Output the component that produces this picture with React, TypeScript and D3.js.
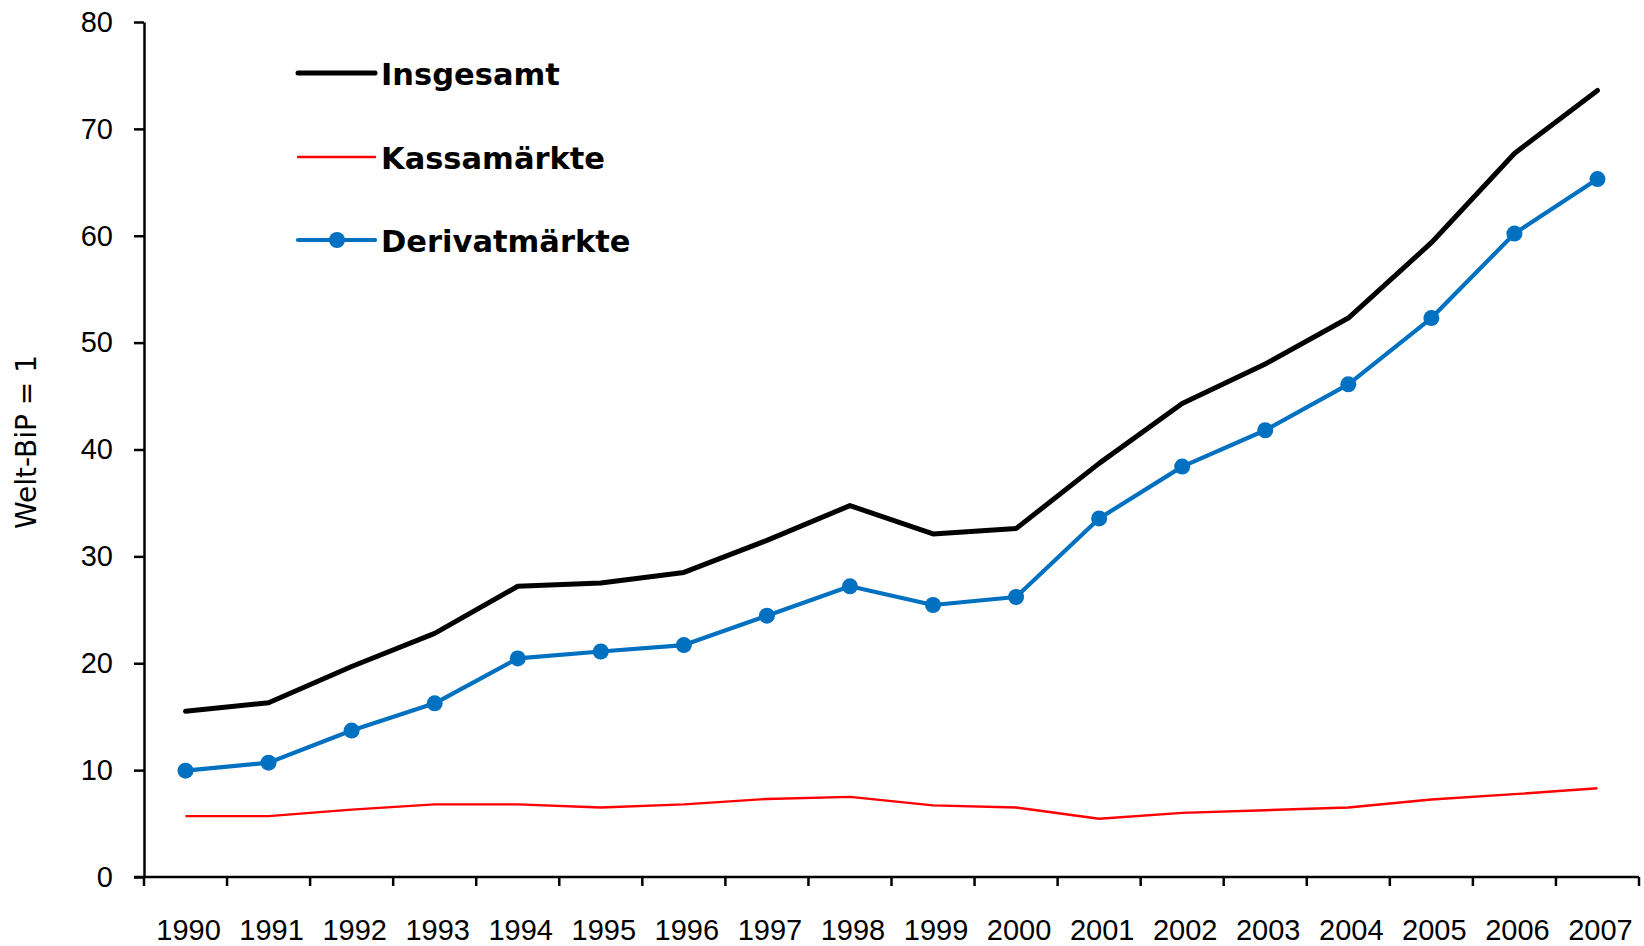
import React, { useEffect, useRef } from "react";
import * as d3 from "d3";

const years = ["1990","1991","1992","1993","1994","1995","1996","1997","1998","1999","2000","2001","2002","2003","2004","2005","2006","2007"];
const insgesamt = [15.5, 16.3, 19.7, 22.8, 27.2, 27.5, 28.5, 31.5, 34.75, 32.1, 32.6, 38.7, 44.3, 48.0, 52.3, 59.35, 67.7, 73.6];
const derivat = [9.95, 10.7, 13.7, 16.25, 20.45, 21.1, 21.7, 24.45, 27.2, 25.45, 26.2, 33.55, 38.4, 41.8, 46.1, 52.3, 60.2, 65.3];
const kassa = [5.7, 5.7, 6.3, 6.8, 6.8, 6.5, 6.8, 7.3, 7.5, 6.7, 6.5, 5.45, 6.0, 6.25, 6.5, 7.25, 7.75, 8.3];
const yTicks = [0, 10, 20, 30, 40, 50, 60, 70, 80];
const legendLabels = ["Insgesamt", "Kassamärkte", "Derivatmärkte"];
const yTitle = "Welt-BiP = 1";

const W = 1644, H = 946;
const BLUE = "#0070C0", RED = "#FF0000", BLACK = "#000000";

export default function App() {
  const ref = useRef<SVGSVGElement>(null);
  useEffect(() => {
    const svg = d3.select(ref.current);
    svg.selectAll("*").remove();
    const x = d3.scaleBand().domain(years).range([144, 1639]).paddingInner(0).paddingOuter(0);
    const y = d3.scaleLinear().domain([0, 80]).range([877, 22]);
    const cx = (d: string) => (x(d) as number) + x.bandwidth() / 2;

    // Y axis
    const ya = svg.append("g").attr("transform", "translate(144,0)")
      .call(d3.axisLeft(y).tickValues(yTicks).tickSize(10).tickSizeOuter(0).tickPadding(21).tickFormat(d3.format("d")));
    ya.select(".domain").attr("stroke", BLACK).attr("stroke-width", 2.5);
    ya.selectAll(".tick line").attr("stroke", BLACK).attr("stroke-width", 2.5);
    ya.selectAll(".tick text").attr("font-family", "Liberation Sans, Arial, sans-serif").attr("font-size", 29).attr("fill", "#000");

    // X axis
    const xa = svg.append("g").attr("transform", "translate(0,877)");
    xa.append("line").attr("x1", 134).attr("x2", 1639).attr("y1", 0).attr("y2", 0).attr("stroke", BLACK).attr("stroke-width", 2.5);
    const bounds = years.map(d => x(d) as number).concat([x.range()[1]]);
    xa.selectAll("line.tk").data(bounds).enter().append("line").attr("class", "tk")
      .attr("x1", d => d).attr("x2", d => d).attr("y1", 0).attr("y2", 9)
      .attr("stroke", BLACK).attr("stroke-width", 2.5);
    xa.selectAll("text").data(years).enter().append("text")
      .attr("x", d => cx(d) + 3).attr("y", 63).attr("text-anchor", "middle")
      .attr("font-family", "Liberation Sans, Arial, sans-serif").attr("font-size", 29).attr("fill", "#000")
      .text(d => d);

    // Y title
    svg.append("text").attr("transform", "translate(36,442) rotate(-90)").attr("text-anchor", "middle")
      .attr("font-family", "DejaVu Sans, sans-serif").attr("font-size", 28).attr("fill", "#000").text(yTitle);

    const line = d3.line<number>().x((_, i) => cx(years[i])).y(d => y(d));

    svg.append("path").attr("d", line(kassa) as string).attr("fill", "none").attr("stroke", RED)
      .attr("stroke-width", 2.4).attr("stroke-linejoin", "round");
    svg.append("path").attr("d", line(insgesamt) as string).attr("fill", "none").attr("stroke", BLACK)
      .attr("stroke-width", 5).attr("stroke-linejoin", "round").attr("stroke-linecap", "round");
    svg.append("path").attr("d", line(derivat) as string).attr("fill", "none").attr("stroke", BLUE)
      .attr("stroke-width", 4.2).attr("stroke-linejoin", "round");
    svg.selectAll("circle.pt").data(derivat).enter().append("circle").attr("class", "pt")
      .attr("cx", (_, i) => cx(years[i])).attr("cy", d => y(d)).attr("r", 8).attr("fill", BLUE);

    // Legend
    const legY = [73, 157, 240];
    const styles = [
      { c: BLACK, w: 5, m: false },
      { c: RED, w: 2.4, m: false },
      { c: BLUE, w: 4.2, m: true },
    ];
    legendLabels.forEach((lab, i) => {
      const g = svg.append("g");
      g.append("line").attr("x1", 298).attr("x2", 375).attr("y1", legY[i]).attr("y2", legY[i])
        .attr("stroke", styles[i].c).attr("stroke-width", styles[i].w).attr("stroke-linecap", "round");
      if (styles[i].m) g.append("circle").attr("cx", 337).attr("cy", legY[i]).attr("r", 8).attr("fill", BLUE);
      g.append("text").attr("x", 381).attr("y", legY[i] + 11.5)
        .attr("font-family", "DejaVu Sans, sans-serif").attr("font-weight", "bold").attr("font-size", 30.5)
        .attr("fill", "#000").text(lab);
    });
  }, []);
  return (
    <svg ref={ref} width={W} height={H} style={{ position: "absolute", left: 0, top: 0, background: "#fff" }} />
  );
}
